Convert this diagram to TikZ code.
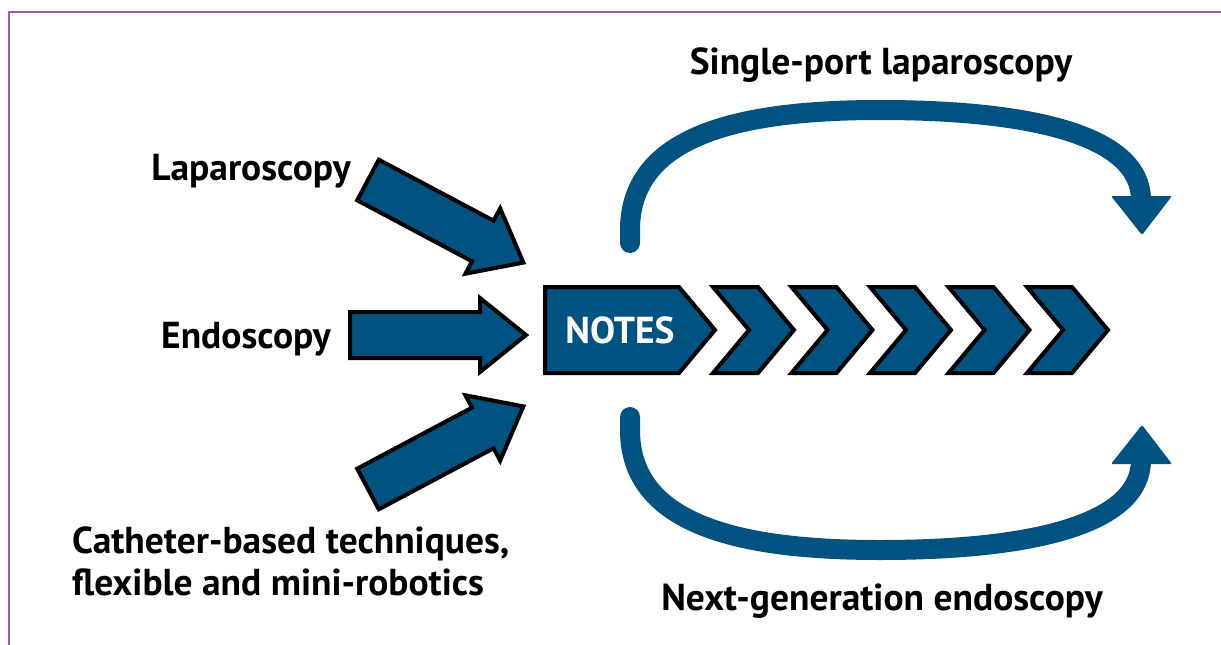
\documentclass[tikz,border=0pt]{standalone}
\usepackage{fontspec}
\setmainfont{PT Sans}
\usepackage{xcolor}

\definecolor{notesblue}{RGB}{0,82,128}
\definecolor{framepurple}{RGB}{168,88,168}

\begin{document}
\begin{tikzpicture}[x=1pt, y=-1pt,
	txt/.style={inner sep=0pt, font=\fontsize{37.5}{42}\selectfont\bfseries},
	blockarrow/.style={fill=notesblue, draw=black, line width=4pt, line join=miter},
	bendarrow/.style={draw=notesblue, line width=20pt, line cap=round}]
	\useasboundingbox (0,0) rectangle (1221,645);
	
	% frame
	\draw[framepurple, line width=1.5pt] (9,645) -- (9,12) -- (1221,12);
	
	% labels on the left
	\node (lap) at (251,180) [txt, anchor=base] {Laparoscopy};
	\node (endo) at (246,348) [txt, anchor=base] {Endoscopy};
	\node (cath) at (72,527) [txt, anchor=north west, align=left] {Catheter-based techniques,\\flexible and mini-robotics};
	
	% three arrows pointing at NOTES
	\foreach \ax/\ay/\ang in {368/180/-28, 350/335/0, 368/489/28}{
		\begin{scope}[shift={(\ax,\ay)}, rotate=\ang]
			\draw[blockarrow] (0,-23) -- (130,-23) -- (130,-37) -- (176,0)
			-- (130,37) -- (130,23) -- (0,23) -- cycle;
		\end{scope}
	}
	
	% NOTES block
	\draw[blockarrow] (545,287) -- (679,287) -- (715,330) -- (679,373) -- (545,373) -- cycle;
	\node (notes) at (620,343) [txt, anchor=base, white] {NOTES};
	
	% chevrons
	\foreach \i in {0,...,4}{
		\pgfmathsetmacro{\cx}{713+78.5*\i}
		\draw[blockarrow] (\cx,287) -- (\cx+45,287) -- (\cx+81,330)
		-- (\cx+45,373) -- (\cx,373) -- (\cx+36,330) -- cycle;
	}
	
	% upper bend
	\draw[bendarrow] (630,243) -- (630,230) .. controls (630,135) and (740,110) .. (880,110)
	.. controls (1030,110) and (1141,135) .. (1141,200);
	\fill[notesblue, rounded corners=2pt] (1111,196) -- (1172,196) -- (1142,235) -- cycle;
	\node (single) at (881,74) [txt, anchor=base] {Single-port laparoscopy};
	
	% lower bend
	\draw[bendarrow] (630,417) -- (630,430) .. controls (630,525) and (740,550) .. (880,550)
	.. controls (1030,550) and (1141,525) .. (1141,460);
	\fill[notesblue, rounded corners=2pt] (1111,464) -- (1172,464) -- (1142,425) -- cycle;
	\node (nextgen) at (882,610) [txt, anchor=base] {Next-generation endoscopy};
\end{tikzpicture}
\end{document}
